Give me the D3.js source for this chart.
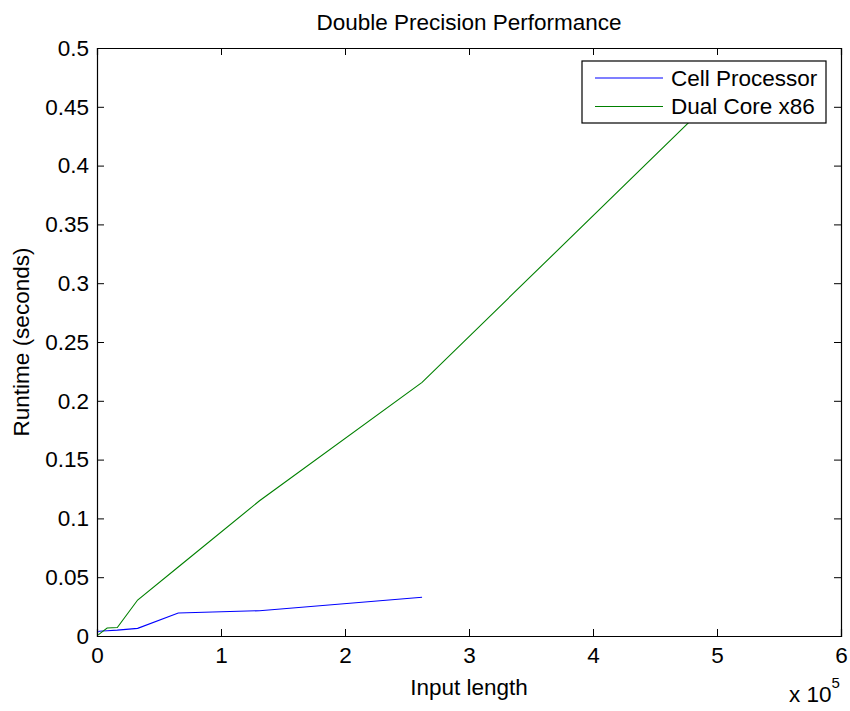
<!DOCTYPE html>
<html>
<head>
<meta charset="utf-8">
<script src="https://cdn.jsdelivr.net/npm/d3@7"></script>
<style>
  body { margin: 0; background: #fff; }
  text { font-family: "Liberation Sans", Arial, sans-serif; fill: #000; }
</style>
</head>
<body>
<div id="chart"></div>
<script>
const width = 850;
const height = 711;
const margin = {left: 97, right: 9, top: 48, bottom: 75};

// input lengths (powers of two) and runtimes in seconds
const inputLengths = [1024, 2048, 4096, 8192, 16384, 32768, 65536, 131072, 262144, 524288];
const cellRuntime = [0.0037, 0.0040, 0.0042, 0.0045, 0.0050, 0.0065, 0.0196, 0.0215, 0.0330];
const x86Runtime = [0.0010, 0.0018, 0.0035, 0.0068, 0.0072, 0.0306, 0.0587, 0.1150, 0.2157, 0.4850];

const seriesNames = ["Cell Processor", "Dual Core x86"];
const seriesColors = ["#0000ff", "#008000"];
const xTicks = [0, 1, 2, 3, 4, 5, 6];
const yTicks = [0, 0.05, 0.1, 0.15, 0.2, 0.25, 0.3, 0.35, 0.4, 0.45, 0.5];

const svg = d3.select("#chart")
  .append("svg")
  .attr("width", width)
  .attr("height", height);

const xScale = d3.scaleLinear()
  .domain([0, 6e5])
  .range([margin.left, width - margin.right]);

const yScale = d3.scaleLinear()
  .domain([0, 0.5])
  .range([height - margin.bottom, margin.top]);

const fontSize = "22.5px";
const tickLen = 7;

// axes: ticks point inward, box round the plot
svg.append("g")
  .attr("transform", `translate(0,${height - margin.bottom})`)
  .call(d3.axisBottom(xScale).tickValues(xTicks.map(d => d * 1e5))
    .tickSize(-tickLen).tickPadding(tickLen + 4).tickFormat((d, i) => xTicks[i]))
  .attr("font-size", fontSize);

svg.append("g")
  .attr("transform", `translate(0,${margin.top})`)
  .call(d3.axisTop(xScale).tickValues(xTicks.map(d => d * 1e5))
    .tickSize(-tickLen).tickFormat(""));

svg.append("g")
  .attr("transform", `translate(${margin.left},0)`)
  .call(d3.axisLeft(yScale).tickValues(yTicks)
    .tickSize(-tickLen).tickPadding(tickLen + 1).tickFormat(d => String(+d.toFixed(2))))
  .attr("font-size", fontSize);

svg.append("g")
  .attr("transform", `translate(${width - margin.right},0)`)
  .call(d3.axisRight(yScale).tickValues(yTicks)
    .tickSize(-tickLen).tickFormat(""));

svg.selectAll(".domain").attr("stroke", "#000").attr("stroke-width", 1.2);
svg.selectAll(".tick line").attr("stroke", "#000");
svg.selectAll(".tick text").attr("fill", "#000")
  .style("font-family", "'Liberation Sans', Arial, sans-serif");

// lines
const line = d3.line()
  .x(d => xScale(d[0]))
  .y(d => yScale(d[1]));

const series = [cellRuntime, x86Runtime];
series.forEach((vals, k) => {
  svg.append("path")
    .datum(vals.map((v, i) => [inputLengths[i], v]))
    .attr("fill", "none")
    .attr("stroke", seriesColors[k])
    .attr("stroke-width", 1.1)
    .attr("d", line);
});

// title and labels
svg.append("text")
  .attr("x", (margin.left + width - margin.right) / 2)
  .attr("y", 30)
  .attr("text-anchor", "middle")
  .attr("font-size", fontSize)
  .text("Double Precision Performance");

svg.append("text")
  .attr("x", (margin.left + width - margin.right) / 2)
  .attr("y", 695)
  .attr("text-anchor", "middle")
  .attr("font-size", fontSize)
  .text("Input length");

svg.append("text")
  .attr("transform", `translate(29,${(margin.top + height - margin.bottom) / 2}) rotate(-90)`)
  .attr("text-anchor", "middle")
  .attr("font-size", fontSize)
  .text("Runtime (seconds)");

const expo = svg.append("text")
  .attr("x", 789)
  .attr("y", 702)
  .attr("font-size", fontSize);
expo.append("tspan").text("x 10");
expo.append("tspan").attr("dy", -14).attr("font-size", "15px").text("5");

// legend
const legend = svg.append("g").attr("transform", "translate(582,61)");
legend.append("rect")
  .attr("width", 244)
  .attr("height", 62)
  .attr("fill", "#fff")
  .attr("stroke", "#000")
  .attr("stroke-width", 1.2);

seriesNames.forEach((name, i) => {
  const y = 17 + i * 28.5;
  legend.append("line")
    .attr("x1", 13).attr("x2", 81)
    .attr("y1", y).attr("y2", y)
    .attr("stroke", seriesColors[i])
    .attr("stroke-width", 1.1);
  legend.append("text")
    .attr("x", 89)
    .attr("y", y + 7.5)
    .attr("font-size", fontSize)
    .text(name);
});
</script>
</body>
</html>
